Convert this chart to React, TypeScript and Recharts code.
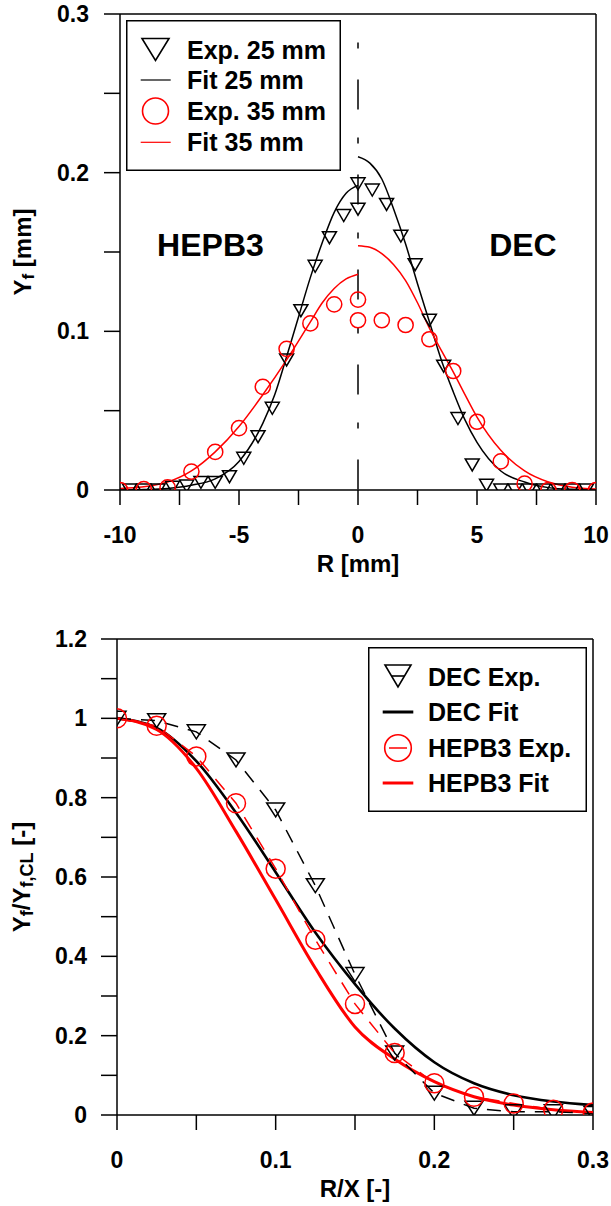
import React from 'react';
import {
  ComposedChart,
  Line,
  Scatter,
  XAxis,
  YAxis,
  ReferenceLine,
  ReferenceDot,
  Legend,
  Label,
} from 'recharts';

const FONT = '"Liberation Sans", Arial, Helvetica, sans-serif';
const RED = '#ff0000';
const BLACK = '#000000';

// ================= TOP CHART: Y_f [mm] vs R [mm] =================
const topXTicks = [-10, -7.5, -5, -2.5, 0, 2.5, 5, 7.5, 10];
const topXLabels = ['-10', '', '-5', '', '0', '', '5', '', '10'];
const topYTicks = [0, 0.05, 0.1, 0.15, 0.2, 0.25, 0.3];
const topYLabels = ['0', '', '0.1', '', '0.2', '', '0.3'];

// Exp. 25 mm (triangles)
const exp25R = [
  -9.6, -9.0, -8.4, -7.8, -7.2, -6.6, -6.0, -5.4, -4.8, -4.2, -3.6, -3.0, -2.4, -1.8, -1.2, -0.6,
  0, 0, 0.6, 1.2, 1.8, 2.4, 3.0, 3.6, 4.2, 4.8, 5.4, 6.0, 6.6, 7.2, 7.8, 8.4, 9.0, 9.6,
];
const exp25Yf = [
  0, 0, 0, 0.0017, 0.0025, 0.0048, 0.0048, 0.0084, 0.02, 0.0336, 0.0515, 0.082, 0.113, 0.141, 0.159, 0.173,
  0.193, 0.177, 0.189, 0.18, 0.16, 0.142, 0.107, 0.078, 0.045, 0.0158, 0.003, 0, 0, 0, 0, 0, 0, 0,
];

// Exp. 35 mm (circles)
const exp35R = [-10, -9, -8, -7, -6, -5, -4, -3, -2, -1, 0, 0, 1, 2, 3, 4, 5, 6, 7, 8, 9, 10];
const exp35Yf = [
  0, 0.0005, 0.0017, 0.0116, 0.024, 0.039, 0.065, 0.089, 0.105, 0.117, 0.12, 0.107, 0.107, 0.104, 0.095,
  0.075, 0.043, 0.018, 0.004, 0, 0, 0,
];

// Fit 25 mm – HEPB3 side (R<0) and DEC side (R>0)
const fit25LeftR = [-10, -9, -8, -7, -6, -5, -4, -3.5, -3, -2.5, -2, -1.5, -1, -0.5, 0];
const fit25LeftYf = [0, 0.0003, 0.001, 0.003, 0.007, 0.018, 0.042, 0.06, 0.084, 0.109, 0.134, 0.156, 0.175, 0.187, 0.192];
const fit25RightR = [0, 0.5, 1, 1.5, 2, 2.5, 3, 3.5, 4, 4.5, 5, 6, 7, 8, 9, 10];
const fit25RightYf = [0.21, 0.206, 0.196, 0.177, 0.155, 0.13, 0.106, 0.082, 0.062, 0.044, 0.03, 0.012, 0.005, 0.0015, 0.0004, 0.0001];

// Fit 35 mm – HEPB3 side (R<0) and DEC side (R>0)
const fit35LeftR = [-10, -9, -8, -7, -6, -5, -4, -3, -2, -1.5, -1, -0.5, 0];
const fit35LeftYf = [0.001, 0.002, 0.005, 0.012, 0.024, 0.04, 0.06, 0.082, 0.106, 0.118, 0.127, 0.133, 0.136];
const fit35RightR = [0, 0.5, 1, 1.5, 2, 2.5, 3, 3.5, 4, 4.5, 5, 6, 7, 8, 9, 10];
const fit35RightYf = [0.154, 0.153, 0.149, 0.142, 0.132, 0.118, 0.102, 0.088, 0.0745, 0.06, 0.046, 0.025, 0.012, 0.005, 0.0018, 0.0006];

// ================= BOTTOM CHART: Y_f/Y_f,CL vs R/X =================
const botXTicks = [0, 0.05, 0.1, 0.15, 0.2, 0.25, 0.3];
const botXLabels = ['0', '', '0.1', '', '0.2', '', '0.3'];
const botYTicks = [0, 0.1, 0.2, 0.3, 0.4, 0.5, 0.6, 0.7, 0.8, 0.9, 1.0, 1.1, 1.2];
const botYLabels = ['0', '', '0.2', '', '0.4', '', '0.6', '', '0.8', '', '1', '', '1.2'];

const rOverX = [0, 0.025, 0.05, 0.075, 0.1, 0.125, 0.15, 0.175, 0.2, 0.225, 0.25, 0.275, 0.3];
const decExpRatio = [1.0, 0.994, 0.966, 0.895, 0.769, 0.578, 0.354, 0.156, 0.055, 0.017, 0.008, 0.008, 0.004];
const hepExpRatio = [1.0, 0.981, 0.904, 0.786, 0.621, 0.442, 0.28, 0.156, 0.08, 0.046, 0.029, 0.013, 0.006];
const decFitRatio = [1.0, 0.976, 0.892, 0.762, 0.612, 0.46, 0.33, 0.218, 0.133, 0.08, 0.05, 0.034, 0.025];
const hepFitRatio = [1.0, 0.972, 0.874, 0.715, 0.543, 0.37, 0.222, 0.141, 0.084, 0.046, 0.025, 0.013, 0.006];

const zip = (xs: number[], ys: number[]) => xs.map((x, i) => ({ x, y: ys[i] }));

// ----- markers -----
function InvTri({ cx, cy, w, h, stroke, sw, bar }: any) {
  if (cx == null || cy == null) return null;
  const pts = `${cx - w / 2},${cy - h / 2} ${cx + w / 2},${cy - h / 2} ${cx},${cy + h / 2}`;
  return (
    <g>
      <polygon points={pts} fill="none" stroke={stroke} strokeWidth={sw} />
      {bar ? <line x1={cx - bar} x2={cx + bar} y1={cy} y2={cy} stroke={stroke} strokeWidth={sw} /> : null}
    </g>
  );
}
function Ring({ cx, cy, r, stroke, sw, bar }: any) {
  if (cx == null || cy == null) return null;
  return (
    <g>
      <circle cx={cx} cy={cy} r={r} fill="none" stroke={stroke} strokeWidth={sw} />
      {bar ? <line x1={cx - bar} x2={cx + bar} y1={cy} y2={cy} stroke={stroke} strokeWidth={1.5} /> : null}
    </g>
  );
}

const tickStyle = { fontSize: 23, fontWeight: 700, fill: BLACK, fontFamily: FONT };
const lineStyle = { stroke: BLACK, strokeWidth: 1.5 };

// ----- legends -----
function TopLegendBox() {
  const rows = [29.5, 60, 91, 122.3];
  const txt = (y: number, s: string) => (
    <text x={61} y={y + 9} fontFamily={FONT} fontWeight={700} fontSize={25} fill={BLACK}>
      {s}
    </text>
  );
  return (
    <svg width={215} height={151} style={{ display: 'block' }}>
      <rect x={0.75} y={0.75} width={213.5} height={149.5} fill="#fff" stroke={BLACK} strokeWidth={1.5} />
      <InvTri cx={29.5} cy={rows[0]} w={27} h={22} stroke={BLACK} sw={1.6} />
      {txt(rows[0], 'Exp. 25 mm')}
      <line x1={14.7} x2={44.7} y1={rows[1]} y2={rows[1]} stroke={BLACK} strokeWidth={1.2} />
      {txt(rows[1], 'Fit 25 mm')}
      <Ring cx={29.5} cy={rows[2]} r={13} stroke={RED} sw={1.6} />
      {txt(rows[2], 'Exp. 35 mm')}
      <line x1={14.7} x2={44.7} y1={rows[3]} y2={rows[3]} stroke={RED} strokeWidth={1.2} />
      {txt(rows[3], 'Fit 35 mm')}
    </svg>
  );
}

function BottomLegendBox() {
  const rows = [30, 65, 101, 136];
  const txt = (y: number, s: string) => (
    <text x={60} y={y + 9} fontFamily={FONT} fontWeight={700} fontSize={25} fill={BLACK}>
      {s}
    </text>
  );
  return (
    <svg width={219} height={165} style={{ display: 'block' }}>
      <rect x={0.75} y={0.75} width={217.5} height={163.5} fill="#fff" stroke={BLACK} strokeWidth={1.5} />
      <InvTri cx={30} cy={rows[0] - 1} w={26} h={22} stroke={BLACK} sw={1.6} bar={7} />
      {txt(rows[0], 'DEC Exp.')}
      <line x1={14.7} x2={45.3} y1={rows[1]} y2={rows[1]} stroke={BLACK} strokeWidth={3} />
      {txt(rows[1], 'DEC Fit')}
      <Ring cx={30} cy={rows[2]} r={13.3} stroke={RED} sw={1.6} bar={9} />
      {txt(rows[2], 'HEPB3 Exp.')}
      <line x1={14.7} x2={45.3} y1={rows[3]} y2={rows[3]} stroke={RED} strokeWidth={3} />
      {txt(rows[3], 'HEPB3 Fit')}
    </svg>
  );
}

// ----- axis titles -----
const xTitle = (s: string) => (props: any) => {
  const vb = props.viewBox || {};
  const cx = vb.x + vb.width / 2;
  return (
    <text x={cx} y={vb.y + 82} textAnchor="middle" fontFamily={FONT} fontWeight={700} fontSize={24} fill={BLACK}>
      {s}
    </text>
  );
};

const yTitleTop = (props: any) => {
  const vb = props.viewBox || {};
  const x = vb.x + 31;
  const cy = vb.y + vb.height / 2;
  return (
    <text
      x={x}
      y={cy}
      transform={`rotate(-90 ${x} ${cy})`}
      textAnchor="middle"
      fontFamily={FONT}
      fontWeight={700}
      fontSize={24}
      fill={BLACK}
    >
      Y<tspan dy={3} fontSize={17}>f</tspan>
      <tspan dy={-3} fontSize={24}> [mm]</tspan>
    </text>
  );
};

const yTitleBottom = (props: any) => {
  const vb = props.viewBox || {};
  const x = vb.x + 30;
  const cy = vb.y + vb.height / 2;
  return (
    <text
      x={x}
      y={cy}
      transform={`rotate(-90 ${x} ${cy})`}
      textAnchor="middle"
      fontFamily={FONT}
      fontWeight={700}
      fontSize={24}
      fill={BLACK}
    >
      Y<tspan dy={3} fontSize={18}>f</tspan>
      <tspan dy={-3} fontSize={24}>/Y</tspan>
      <tspan dy={3} fontSize={18}>f,CL</tspan>
      <tspan dy={-3} fontSize={24}> [-]</tspan>
    </text>
  );
};

const annot = (s: string) => (props: any) => {
  const vb = props.viewBox || {};
  const cx = vb.x + (vb.width || 0) / 2;
  const cy = vb.y + (vb.height || 0) / 2;
  return (
    <text x={cx} y={cy + 11.5} textAnchor="middle" fontFamily={FONT} fontWeight={700} fontSize={32} fill={BLACK}>
      {s}
    </text>
  );
};

function TopChart() {
  return (
    <ComposedChart width={611} height={600} margin={{ top: 14, right: 15, bottom: 60, left: 0 }}>
      <XAxis
        dataKey="x"
        type="number"
        domain={[-10, 10]}
        allowDataOverflow
        ticks={topXTicks}
        interval={0}
        tickFormatter={(_v: number, i: number) => topXLabels[i]}
        tick={tickStyle}
        tickSize={15}
        tickMargin={22}
        axisLine={lineStyle}
        tickLine={lineStyle}
        height={50}
      >
        <Label content={xTitle('R [mm]')} />
      </XAxis>
      <YAxis
        dataKey="y"
        type="number"
        domain={[0, 0.3]}
        allowDataOverflow
        ticks={topYTicks}
        interval={0}
        tickFormatter={(_v: number, i: number) => topYLabels[i]}
        tick={tickStyle}
        tickSize={16}
        tickMargin={15}
        axisLine={lineStyle}
        tickLine={lineStyle}
        width={120}
      >
        <Label content={yTitleTop} />
      </YAxis>
      <ReferenceLine y={0.3} stroke={BLACK} strokeWidth={1.5} />
      <ReferenceLine x={10} stroke={BLACK} strokeWidth={1.5} />
      <ReferenceLine
        segment={[
          { x: 0, y: 0.282 },
          { x: 0, y: 0 },
        ]}
        stroke={BLACK}
        strokeWidth={1.5}
        strokeDasharray="6 31 30 28"
      />
      <ReferenceDot x={-6.2} y={0.1547} r={1} fill="none" stroke="none" label={<Label content={annot('HEPB3')} />} />
      <ReferenceDot x={6.93} y={0.1547} r={1} fill="none" stroke="none" label={<Label content={annot('DEC')} />} />

      <Line data={zip(fit25LeftR, fit25LeftYf)} dataKey="y" type="monotone" stroke={BLACK} strokeWidth={1.5} dot={false} activeDot={false} isAnimationActive={false} />
      <Line data={zip(fit25RightR, fit25RightYf)} dataKey="y" type="monotone" stroke={BLACK} strokeWidth={1.5} dot={false} activeDot={false} isAnimationActive={false} />
      <Line data={zip(fit35LeftR, fit35LeftYf)} dataKey="y" type="monotone" stroke={RED} strokeWidth={1.5} dot={false} activeDot={false} isAnimationActive={false} />
      <Line data={zip(fit35RightR, fit35RightYf)} dataKey="y" type="monotone" stroke={RED} strokeWidth={1.5} dot={false} activeDot={false} isAnimationActive={false} />

      <Scatter
        data={zip(exp25R, exp25Yf)}
        dataKey="y"
        isAnimationActive={false}
        shape={(p: any) => <InvTri cx={p.cx} cy={p.cy} w={14} h={12} stroke={BLACK} sw={1.5} />}
      />
      <Scatter
        data={zip(exp35R, exp35Yf)}
        dataKey="y"
        isAnimationActive={false}
        shape={(p: any) => <Ring cx={p.cx} cy={p.cy} r={7.6} stroke={RED} sw={1.5} />}
      />
      <Legend
        layout="vertical"
        align="center"
        verticalAlign="middle"
        content={() => <TopLegendBox />}
        wrapperStyle={{ left: 126, top: 20, width: 215, height: 151 }}
      />
    </ComposedChart>
  );
}

function BottomChart() {
  return (
    <ComposedChart width={611} height={606} margin={{ top: 39, right: 18, bottom: 41, left: 0 }}>
      <XAxis
        dataKey="x"
        type="number"
        domain={[0, 0.3]}
        allowDataOverflow
        ticks={botXTicks}
        interval={0}
        tickFormatter={(_v: number, i: number) => botXLabels[i]}
        tick={tickStyle}
        tickSize={15}
        tickMargin={22}
        axisLine={lineStyle}
        tickLine={lineStyle}
        height={50}
      >
        <Label content={xTitle('R/X [-]')} />
      </XAxis>
      <YAxis
        dataKey="y"
        type="number"
        domain={[0, 1.2]}
        allowDataOverflow
        ticks={botYTicks}
        interval={0}
        tickFormatter={(_v: number, i: number) => botYLabels[i]}
        tick={tickStyle}
        tickSize={16}
        tickMargin={14}
        axisLine={lineStyle}
        tickLine={lineStyle}
        width={117}
      >
        <Label content={yTitleBottom} />
      </YAxis>
      <ReferenceLine y={1.2} stroke={BLACK} strokeWidth={1.5} />
      <ReferenceLine x={0.3} stroke={BLACK} strokeWidth={1.5} />

      <Line data={zip(rOverX, decFitRatio)} dataKey="y" type="monotone" stroke={BLACK} strokeWidth={2.6} dot={false} activeDot={false} isAnimationActive={false} />
      <Line data={zip(rOverX, hepFitRatio)} dataKey="y" type="monotone" stroke={RED} strokeWidth={3} dot={false} activeDot={false} isAnimationActive={false} />
      <Line
        data={zip(rOverX, decExpRatio)}
        dataKey="y"
        type="linear"
        stroke={BLACK}
        strokeWidth={1.5}
        strokeDasharray="14 10"
        activeDot={false}
        isAnimationActive={false}
        dot={(p: any) => <InvTri key={`dt${p.index}`} cx={p.cx} cy={p.cy} w={18} h={14} stroke={BLACK} sw={1.5} />}
      />
      <Line
        data={zip(rOverX, hepExpRatio)}
        dataKey="y"
        type="linear"
        stroke={RED}
        strokeWidth={1.5}
        strokeDasharray="14 10"
        activeDot={false}
        isAnimationActive={false}
        dot={(p: any) => <Ring key={`dc${p.index}`} cx={p.cx} cy={p.cy} r={9.5} stroke={RED} sw={1.5} />}
      />
      <Legend
        layout="vertical"
        align="center"
        verticalAlign="middle"
        content={() => <BottomLegendBox />}
        wrapperStyle={{ left: 368, top: 47, width: 219, height: 165 }}
      />
    </ComposedChart>
  );
}

export default function App() {
  return (
    <div style={{ position: 'absolute', left: 0, top: 0, width: 611, height: 1206, background: '#fff', fontFamily: FONT }}>
      <div style={{ position: 'absolute', left: 0, top: 0 }}>
        <TopChart />
      </div>
      <div style={{ position: 'absolute', left: 0, top: 600 }}>
        <BottomChart />
      </div>
    </div>
  );
}
